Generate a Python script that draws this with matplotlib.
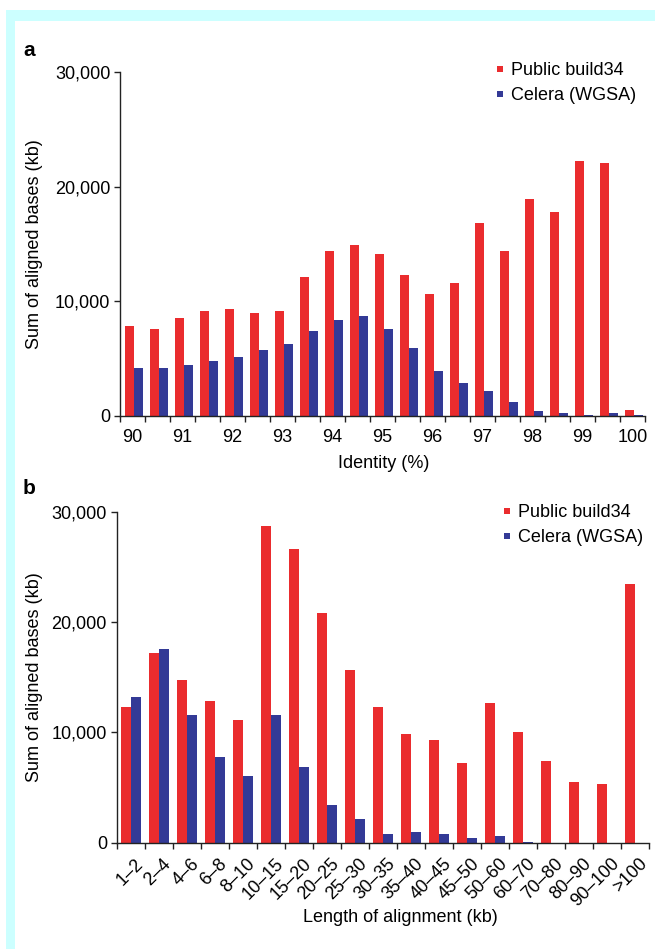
import matplotlib
matplotlib.use("Agg")
import matplotlib.pyplot as plt
from matplotlib.patches import Rectangle
from matplotlib.lines import Line2D
from matplotlib.transforms import ScaledTranslation
import numpy as np

plt.rcParams['font.family'] = ['Liberation Sans', 'DejaVu Sans']

# ---------------- data ----------------
identity_labels = ["90", "91", "92", "93", "94", "95", "96", "97", "98", "99", "100"]
identity_public = [7860, 7590, 8580, 9190, 9370, 9020, 9190, 12130, 14400, 14930,
                   14110, 12310, 10650, 11610, 16850, 14400, 18970, 17840, 22260, 22080, 520]
identity_celera = [4190, 4190, 4480, 4800, 5150, 5760, 6290, 7420, 8380, 8730,
                   7590, 5940, 3960, 2850, 2180, 1250, 410, 290, 120, 290, 50]

length_labels = ["1–2", "2–4", "4–6", "6–8", "8–10", "10–15", "15–20", "20–25", "25–30",
                 "30–35", "35–40", "40–45", "45–50", "50–60", "60–70", "70–80", "80–90",
                 "90–100", ">100"]
length_public = [12300, 17190, 14740, 12840, 11150, 28700, 26620, 20790, 15680,
                 12300, 9850, 9280, 7220, 12660, 10030, 7400, 5500, 5320, 23440]
length_celera = [13230, 17550, 11570, 7760, 6040, 11570, 6830, 3410, 2150,
                 820, 970, 820, 420, 600, 60, 0, 0, 0, 0]

series_names = ["Public build34", "Celera (WGSA)"]
yticks = [0, 10000, 20000, 30000]
ytick_labels = ["0", "10,000", "20,000", "30,000"]

RED = "#EA2C2E"
BLUE = "#333A96"
CYAN = "#CCFFFF"
AXC = "#222222"
FS = 13

W, H = 655, 949
fig = plt.figure(figsize=(W / 100, H / 100), dpi=100)

def fx(px):
    return px / W

def fy(py):
    return 1 - py / H

# cyan frame
fig.patches.append(Rectangle((fx(6), fy(21)), fx(649), 11 / H, transform=fig.transFigure,
                             facecolor=CYAN, edgecolor='none', zorder=0))
fig.patches.append(Rectangle((fx(6), 0), fx(9), fy(10), transform=fig.transFigure,
                             facecolor=CYAN, edgecolor='none', zorder=0))


def style_axes(ax):
    for s in ['top', 'right']:
        ax.spines[s].set_visible(False)
    for s in ['left', 'bottom']:
        ax.spines[s].set_color(AXC)
        ax.spines[s].set_linewidth(1.0)
    ax.set_ylim(0, 30000)
    ax.set_yticks(yticks)
    ax.set_yticklabels(ytick_labels, fontsize=FS)
    ax.tick_params(axis='y', direction='out', length=4, width=1, color=AXC, pad=3)
    ax.tick_params(axis='x', which='major', direction='out', length=4, width=1, color=AXC,
                   labelbottom=False)
    ax.tick_params(axis='x', which='minor', length=0, labelsize=FS)


def add_legend(ax, x_px, y_px):
    handles = [Line2D([], [], marker='s', linestyle='none', markersize=4.6,
                      markerfacecolor=c, markeredgewidth=0) for c in (RED, BLUE)]
    ax.legend(handles=handles, labels=series_names,
              loc='upper left', bbox_to_anchor=(fx(x_px), fy(y_px)),
              bbox_transform=fig.transFigure, frameon=False, fontsize=FS,
              handlelength=0.4, handletextpad=0.45,
              labelspacing=0.45, borderpad=0, borderaxespad=0)


# ---------------- panel a ----------------
axa = fig.add_axes([fx(120), fy(416), fx(645 - 120), (416 - 72.3) / H])
n_a = len(identity_public)
xa = np.arange(n_a)
bw = 0.36
axa.bar(xa + 0.385, identity_public, width=bw, color=RED, linewidth=0, zorder=2)
axa.bar(xa + 0.74, identity_celera, width=bw, color=BLUE, linewidth=0, zorder=2)
axa.set_xlim(0, n_a)
style_axes(axa)
axa.set_xticks(np.arange(n_a + 1))
axa.set_xticks(np.arange(0, n_a, 2) + 0.5, minor=True)
axa.set_xticklabels(identity_labels, minor=True)
axa.tick_params(axis='x', which='minor', pad=9)
add_legend(axa, 496, 62)

# ---------------- panel b ----------------
axb = fig.add_axes([fx(116.7), fy(842.7), fx(649 - 116.7), (842.7 - 511.7) / H])
n_b = len(length_public)
xb = np.arange(n_b)
axb.bar(xb + 0.33, length_public, width=bw, color=RED, linewidth=0, zorder=2)
axb.bar(xb + 0.69, length_celera, width=bw, color=BLUE, linewidth=0, zorder=2)
axb.set_xlim(0, n_b)
style_axes(axb)
axb.set_xticks(np.arange(n_b + 1))
axb.set_xticks(xb + 0.5, minor=True)
axb.set_xticklabels(length_labels, minor=True, rotation=45, ha='right', va='top',
                    rotation_mode='anchor')
axb.tick_params(axis='x', which='minor', pad=6)
off = ScaledTranslation(4 / 100, -4 / 100, fig.dpi_scale_trans)
for lab in axb.get_xticklabels(minor=True):
    lab.set_transform(lab.get_transform() + off)
add_legend(axb, 503, 504)

# ---------------- labels ----------------
fig.text(fx(29), fy(50), "a", fontsize=15, fontweight='bold', ha='center', va='center')
fig.text(fx(29), fy(488), "b", fontsize=15, fontweight='bold', ha='center', va='center')
fig.text(fx(35), fy(244), "Sum of aligned bases (kb)", rotation=90, fontsize=FS,
         ha='center', va='center')
fig.text(fx(35), fy(677), "Sum of aligned bases (kb)", rotation=90, fontsize=FS,
         ha='center', va='center')
fig.text(fx(384), fy(463), "Identity (%)", fontsize=FS, ha='center', va='center')
fig.text(fx(400), fy(917), "Length of alignment (kb)", fontsize=FS, ha='center', va='center')

fig.savefig("out.png", dpi=100)
